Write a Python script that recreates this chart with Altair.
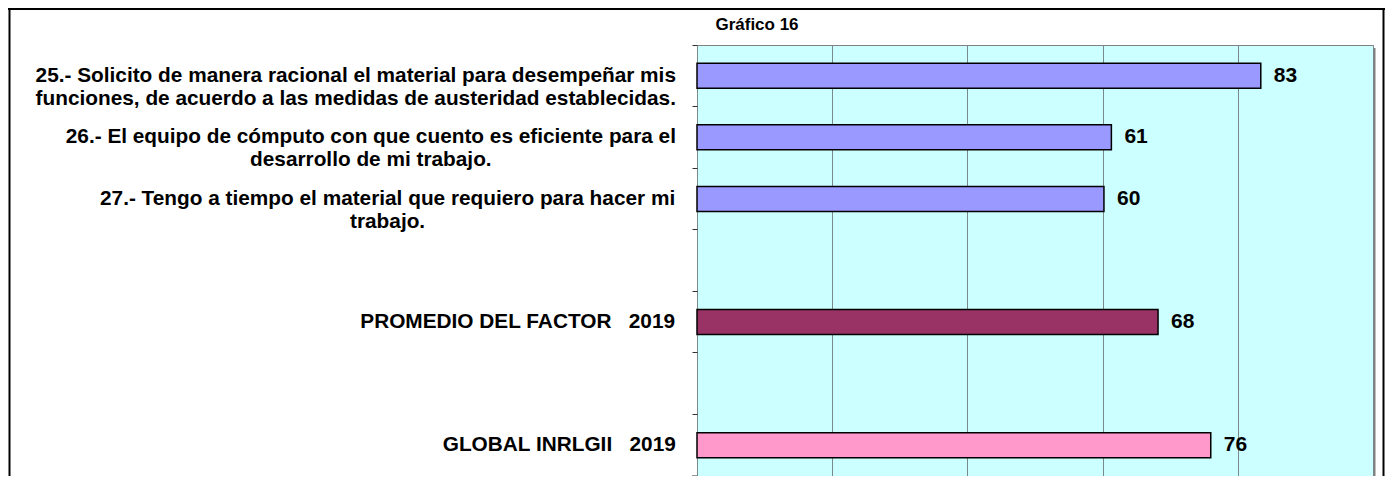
import altair as alt

# ---- data ----
keys = ["25", "26", "27", "PROM", "GLOBAL"]
labels = [
    ["25.- Solicito de manera racional el material para desempeñar mis",
     "funciones, de acuerdo a las medidas de austeridad establecidas."],
    ["26.- El equipo de cómputo con que cuento es eficiente para el",
     "desarrollo de mi trabajo."],
    ["27.- Tengo a tiempo el material que requiero para hacer mi",
     "trabajo."],
    ["PROMEDIO DEL FACTOR\u00a0\u00a0\u00a02019"],
    ["GLOBAL INRLGII\u00a0\u00a0\u00a02019"],
]
values = [83.4, 61.3, 60.2, 68.2, 76.0]
colors = ["#9999FF", "#9999FF", "#9999FF", "#993366", "#FF99CC"]
slots = ["25", "26", "27", "gap1", "PROM", "gap2", "GLOBAL"]
title_text = "Gráfico 16"

# ---- layout ----
W, H = 676, 431
PAD_L, PAD_T = 689, 37
LABEL_FS = 20.8
LABEL_GAP = 21

# Arial/Liberation Sans Bold advance widths (per 1000 em) for centring labels
_AW = {" ": 278, "\u00a0": 278, ".": 278, ",": 278, "-": 333}
_AW.update({d: 556 for d in "0123456789"})
_AW.update(dict(zip("abcdefghijklmnopqrstuvwxyz",
                    [556, 611, 556, 611, 556, 333, 611, 611, 278, 278, 556, 278, 889,
                     611, 611, 611, 611, 389, 556, 333, 611, 556, 778, 556, 556, 500])))
_AW.update(dict(zip("ABCDEFGHIJKLMNOPQRSTUVWXYZ",
                    [722, 722, 722, 722, 667, 611, 778, 722, 278, 556, 722, 611, 833,
                     722, 778, 667, 778, 722, 667, 611, 722, 667, 944, 667, 667, 611])))
_AW.update({"á": 556, "é": 556, "í": 278, "ó": 611, "ú": 611, "ñ": 611})


def text_w(s, fs):
    return sum(_AW.get(c, 556) for c in s) / 1000.0 * fs


bar_rows = [{"key": k, "value": v} for k, v in zip(keys, values)]
label_rows = [
    {"key": k, "lines": ln,
     "xpix": -(LABEL_GAP + max(text_w(s, LABEL_FS) for s in ln) / 2.0)}
    for k, ln in zip(keys, labels)
]

FONT = "Liberation Sans"
XSCALE = alt.Scale(domain=[0, 100])

yenc = alt.Y("key:N",
             scale=alt.Scale(domain=slots, paddingInner=0, paddingOuter=0),
             axis=alt.Axis(labels=False, ticks=True, bandPosition=0, tickSize=5,
                           tickColor="#333333", domain=False, grid=False, title=None))

base = alt.Chart(alt.Data(values=bar_rows))

bars = base.mark_bar(height=25, stroke="black", strokeWidth=1.5).encode(
    y=yenc,
    x=alt.X("value:Q", scale=XSCALE,
            axis=alt.Axis(values=[0, 20, 40, 60, 80, 100], labels=False, ticks=False,
                          domain=False, grid=True, gridColor="#7a8a8a", gridWidth=1,
                          title=None)),
    color=alt.Color("key:N", scale=alt.Scale(domain=keys, range=colors), legend=None),
)

vals = base.mark_text(align="left", baseline="middle", dx=13, fontSize=21,
                      fontWeight="bold", font=FONT, color="black").encode(
    y=alt.Y("key:N"),
    x=alt.X("value:Q", scale=XSCALE, axis=None),
    text=alt.Text("value:Q", format=".0f"),
)

cat_text = alt.Chart(alt.Data(values=label_rows)).mark_text(
    align="center", baseline="middle", fontSize=LABEL_FS, fontWeight="bold",
    font=FONT, color="black", lineHeight=23).encode(
    y=alt.Y("key:N"),
    x=alt.X("xpix:Q", scale=None, axis=None),
    text=alt.Text("lines:N"),
)

one = alt.Data(values=[{}])

title_mark = alt.Chart(alt.Data(values=[{"t": title_text}])).mark_text(
    align="center", baseline="middle", fontSize=17, fontWeight="bold",
    font=FONT, color="black").encode(
    x=alt.value(60), y=alt.value(-20), text="t:N")

deco = [
    # bottom tick of the category axis
    alt.Chart(one).mark_rule(color="#333333", strokeWidth=1).encode(
        x=alt.value(-5), x2=alt.value(0), y=alt.value(H)),
    # plot-area shadow on the right
    alt.Chart(one).mark_rule(color="#808080", strokeWidth=2).encode(
        x=alt.value(W + 1.5), y=alt.value(3), y2=alt.value(H)),
    # outer frame lines
    alt.Chart(one).mark_rule(color="black", strokeWidth=2).encode(
        x=alt.value(-PAD_L + 1.5), y=alt.value(-PAD_T), y2=alt.value(H)),
    alt.Chart(one).mark_rule(color="black", strokeWidth=2).encode(
        x=alt.value(-PAD_L), x2=alt.value(W + 12), y=alt.value(-PAD_T + 1)),
    alt.Chart(one).mark_rule(color="black", strokeWidth=2).encode(
        x=alt.value(W + 10.5), y=alt.value(-PAD_T), y2=alt.value(H)),
]

chart = alt.layer(bars, vals, cat_text, title_mark, *deco).resolve_scale(
    x="independent"
).properties(
    width=W,
    height=H,
    autosize=alt.AutoSizeParams(type="none"),
    padding={"left": PAD_L, "top": PAD_T, "right": 12, "bottom": 0},
    background="white",
).configure_view(
    fill="#CCFFFF", stroke="#808080", strokeWidth=1
)

chart.save("out.html", embed_options={"renderer": "svg", "actions": False})
